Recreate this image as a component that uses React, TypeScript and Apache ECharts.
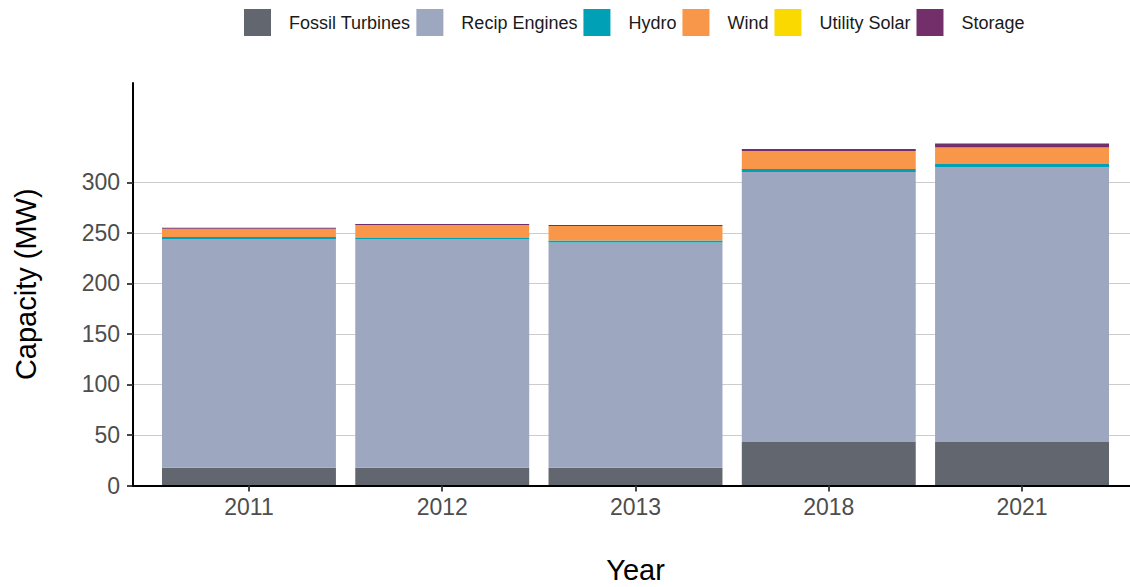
import React, { useEffect, useRef } from "react";
import * as echarts from "echarts";

const years = ["2011", "2012", "2013", "2018", "2021"];
const fossilTurbines = [17.5, 17.5, 17.5, 43, 43];
const recipEngines = [226.5, 226.5, 223, 267.4, 272.3];
const hydro = [2, 1, 2, 3, 3];
const wind = [8.2, 13, 14.5, 17.8, 15.8];
const utilitySolar = [0, 0, 0, 0, 0.5];
const storage = [1, 1, 1, 2, 4];
const yTicks = [0, 50, 100, 150, 200, 250, 300];
const yMax = 398.5;

const seriesDefs = [
  { name: "Fossil Turbines", data: fossilTurbines, color: "#62666f" },
  { name: "Recip Engines", data: recipEngines, color: "#9da7bf" },
  { name: "Hydro", data: hydro, color: "#00a1b7" },
  { name: "Wind", data: wind, color: "#f8974a" },
  { name: "Utility Solar", data: utilitySolar, color: "#f9d900" },
  { name: "Storage", data: storage, color: "#722f6a" },
];

const FONT = "Liberation Sans, Arial, sans-serif";

const PANEL_LEFT = 133;
const PANEL_WIDTH = 1005;
const BAND = PANEL_WIDTH / (years.length + 0.2);
const TOP = 83;
const HEIGHT = 402.5;

export default function App() {
  const ref = useRef<HTMLDivElement>(null);
  useEffect(() => {
    const chart = echarts.init(ref.current!, null, { renderer: "svg" });
    chart.setOption({
      animation: false,
      textStyle: { fontFamily: FONT },
      legend: {
        top: 9,
        left: 244,
        padding: 0,
        itemWidth: 27,
        itemHeight: 27,
        itemGap: 6,
        icon: "rect",
        textStyle: { fontSize: 18, color: "#1a1a1a", fontFamily: FONT, padding: [0, 0, 0, 13] },
        data: seriesDefs.map((s) => s.name),
      },
      grid: [
        {
          left: PANEL_LEFT + 0.1 * BAND,
          top: TOP,
          width: BAND * years.length,
          height: HEIGHT,
          containLabel: false,
          outerBoundsMode: "none",
        },
        {
          left: PANEL_LEFT,
          top: TOP,
          width: PANEL_WIDTH,
          height: HEIGHT,
          containLabel: false,
          outerBoundsMode: "none",
        },
      ],
      xAxis: [
        {
          type: "category",
          gridIndex: 0,
          data: years,
          name: "Year",
          nameLocation: "middle",
          nameGap: 70,
          nameTextStyle: { fontSize: 29, color: "#000", fontFamily: FONT },
          axisLine: { show: false },
          axisTick: { show: true, alignWithLabel: true, length: 6, lineStyle: { color: "#333", width: 1.8 } },
          axisLabel: { fontSize: 23, color: "#4d4d4d", margin: 10, fontFamily: FONT },
          splitLine: { show: false },
          z: 5,
        },
        {
          type: "value",
          gridIndex: 1,
          min: 0,
          max: 1,
          axisLine: { show: true, onZero: false, lineStyle: { color: "#000", width: 2 } },
          axisTick: { show: false },
          axisLabel: { show: false },
          splitLine: { show: false },
          z: 4,
        },
      ],
      yAxis: [
        {
          type: "value",
          gridIndex: 0,
          min: 0,
          max: yMax,
          show: false,
          splitLine: { show: false },
        },
        {
          type: "value",
          gridIndex: 1,
          min: 0,
          max: yMax,
          name: "Capacity (MW)",
          nameLocation: "middle",
          nameGap: 93,
          nameTextStyle: { fontSize: 29, color: "#000", fontFamily: FONT },
          axisLine: { show: true, lineStyle: { color: "#000", width: 2 } },
          axisTick: { show: true, customValues: yTicks, length: 6, lineStyle: { color: "#333", width: 1.8 } },
          axisLabel: { customValues: yTicks, fontSize: 23, color: "#4d4d4d", margin: 13, fontFamily: FONT },
          splitLine: { show: true, lineStyle: { color: "#cccccc", width: 1 } },
          z: 0,
        },
      ],
      series: seriesDefs.map((s) => ({
        name: s.name,
        type: "bar",
        stack: "total",
        xAxisIndex: 0,
        yAxisIndex: 0,
        barWidth: "90%",
        itemStyle: { color: s.color, borderWidth: 0 },
        data: s.data,
        z: 3,
      })),
    });
    return () => chart.dispose();
  }, []);
  return (
    <div
      ref={ref}
      style={{ position: "absolute", left: 0, top: 0, width: 1130, height: 587, background: "#fff" }}
    />
  );
}
